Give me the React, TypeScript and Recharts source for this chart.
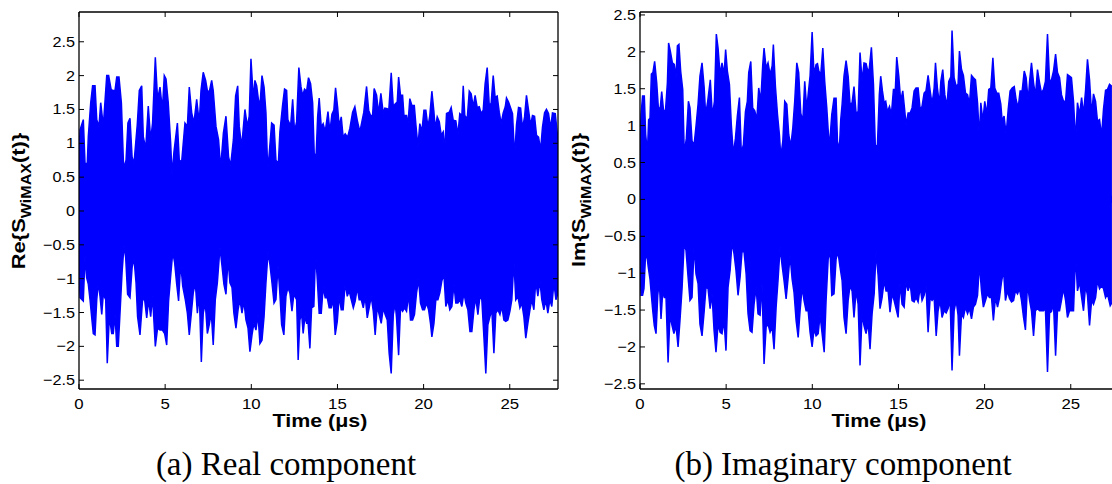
import { ComposedChart, Area, XAxis, YAxis } from 'recharts';

// time in microseconds, amplitude
const xTicks = [0, 5, 10, 15, 20, 25];
const yTicks = [-2.5, -2, -1.5, -1, -0.5, 0, 0.5, 1, 1.5, 2, 2.5];

const reUpper: [number, number][] = [
  [0, 0.8], [0.06, 1.2], [0.25, 1.35], [0.35, 0.7], [0.48, 0.7], [0.54, 1.1], [0.68, 1.6], [0.79, 1.85], [0.93, 1.85], [1.03, 1.35],
  [1.16, 1.25], [1.26, 1.6], [1.41, 1.25], [1.61, 2.0], [1.72, 2.0], [1.86, 1.8], [1.95, 1.78], [2.09, 1.78], [2.19, 1.98], [2.32, 1.98],
  [2.46, 1.6], [2.59, 0.63], [2.73, 0.75], [2.84, 1.3], [2.96, 1.37], [3.08, 0.8], [3.19, 0.7], [3.29, 1.0], [3.38, 1.27], [3.5, 1.78],
  [3.64, 1.85], [3.73, 1.1], [3.87, 0.92], [4.02, 1.55], [4.16, 1.05], [4.27, 1.3], [4.43, 2.27], [4.56, 1.65], [4.7, 1.83], [4.84, 1.5],
  [4.95, 2.0], [5.05, 1.95], [5.18, 1.6], [5.32, 1.0], [5.4, 0.53], [5.51, 0.87], [5.71, 1.3], [5.82, 0.75], [5.96, 0.73], [6.15, 1.3],
  [6.29, 1.25], [6.4, 1.83], [6.54, 1.45], [6.67, 1.3], [6.83, 1.65], [6.98, 1.3], [7.08, 1.78], [7.21, 2.05], [7.35, 1.93], [7.45, 1.78],
  [7.56, 1.76], [7.7, 1.93], [7.79, 1.78], [7.95, 1.25], [8.1, 1.05], [8.22, 0.63], [8.38, 1.15], [8.53, 1.4], [8.68, 0.8], [8.8, 0.67],
  [8.96, 1.05], [9.09, 1.7], [9.21, 1.85], [9.3, 1.25], [9.44, 0.95], [9.63, 1.5], [9.77, 1.25], [9.88, 1.4], [9.98, 2.25], [10.12, 1.65],
  [10.21, 1.93], [10.31, 1.85], [10.41, 1.65], [10.5, 1.55], [10.62, 2.0], [10.74, 1.83], [10.85, 1.45], [10.95, 0.6], [11.04, 0.85], [11.18, 1.3],
  [11.32, 1.27], [11.43, 0.75], [11.57, 0.7], [11.66, 1.17], [11.81, 1.55], [11.93, 1.8], [12.05, 1.78], [12.12, 1.35], [12.28, 1.25], [12.4, 1.65],
  [12.51, 1.17], [12.63, 1.32], [12.76, 2.12], [12.88, 1.84], [12.98, 1.7], [13.09, 1.8], [13.21, 1.77], [13.32, 1.97], [13.44, 1.88], [13.56, 1.6],
  [13.65, 0.86], [13.75, 0.75], [13.85, 1.39], [13.94, 1.67], [14.06, 1.24], [14.17, 1.29], [14.29, 1.17], [14.45, 1.47], [14.56, 1.17], [14.68, 1.43],
  [14.79, 1.49], [14.89, 1.82], [15.01, 1.53], [15.1, 1.25], [15.22, 1.39], [15.33, 1.09], [15.45, 1.14], [15.59, 1.09], [15.72, 1.22], [15.88, 1.46],
  [16.01, 1.54], [16.15, 1.34], [16.3, 1.17], [16.42, 1.32], [16.53, 1.46], [16.69, 1.84], [16.81, 1.49], [16.92, 1.41], [17.04, 1.41], [17.13, 1.81],
  [17.27, 1.71], [17.39, 1.44], [17.52, 1.74], [17.66, 1.44], [17.75, 1.52], [17.89, 1.51], [17.98, 1.49], [18.12, 2.04], [18.24, 1.54], [18.35, 1.58],
  [18.47, 1.61], [18.55, 1.98], [18.66, 1.71], [18.78, 1.71], [18.86, 1.41], [19.01, 1.41], [19.09, 1.27], [19.2, 1.66], [19.32, 1.56], [19.46, 1.56],
  [19.55, 1.28], [19.67, 0.95], [19.78, 1.29], [19.9, 1.17], [20.02, 1.49], [20.13, 1.49], [20.25, 1.24], [20.36, 1.41], [20.48, 1.77], [20.6, 1.46],
  [20.67, 1.22], [20.79, 1.39], [20.91, 1.32], [21.02, 1.12], [21.14, 1.17], [21.22, 0.87], [21.33, 1.44], [21.49, 1.46], [21.6, 1.53], [21.72, 1.34],
  [21.87, 1.33], [21.99, 1.12], [22.1, 1.44], [22.22, 1.41], [22.3, 1.85], [22.39, 1.41], [22.53, 1.36], [22.65, 1.77], [22.76, 1.73], [22.88, 1.54],
  [22.99, 1.71], [23.11, 1.53], [23.23, 1.54], [23.34, 1.44], [23.46, 1.49], [23.57, 1.88], [23.69, 2.12], [23.81, 1.56], [23.92, 1.59], [24.04, 2.0],
  [24.15, 1.68], [24.27, 1.7], [24.39, 1.46], [24.5, 1.29], [24.62, 1.45], [24.74, 1.54], [24.81, 1.67], [24.93, 1.61], [25.04, 1.53], [25.16, 1.44],
  [25.28, 0.8], [25.39, 1.27], [25.51, 1.53], [25.63, 1.52], [25.74, 1.22], [25.86, 1.39], [25.97, 1.71], [26.09, 1.49], [26.21, 1.27], [26.32, 1.41],
  [26.44, 1.4], [26.55, 1.12], [26.67, 1.09], [26.79, 0.9], [26.9, 1.24], [27.02, 1.45], [27.13, 1.5], [27.25, 1.44], [27.37, 1.22], [27.48, 1.45],
  [27.64, 1.44], [27.8, 1.04],
];

const reLower: [number, number][] = [
  [0, -0.76], [0.06, -1.28], [0.25, -1.33], [0.35, -0.66], [0.44, -0.98], [0.54, -1.08], [0.64, -1.31], [0.74, -1.58], [0.83, -1.81], [0.93, -1.83],
  [1.03, -1.31], [1.12, -1.06], [1.22, -1.26], [1.32, -1.53], [1.41, -1.23], [1.55, -1.31], [1.64, -2.25], [1.76, -1.56], [1.9, -1.81], [1.99, -1.81],
  [2.09, -1.53], [2.19, -2.0], [2.28, -2.0], [2.38, -1.51], [2.5, -0.91], [2.61, -0.51], [2.71, -0.69], [2.82, -1.23], [2.96, -1.28], [3.08, -0.84],
  [3.19, -0.69], [3.31, -1.06], [3.4, -1.56], [3.54, -1.83], [3.69, -1.31], [3.81, -1.31], [3.93, -1.58], [4.04, -1.31], [4.16, -1.56], [4.27, -1.26],
  [4.43, -2.0], [4.56, -1.73], [4.7, -1.76], [4.84, -1.76], [4.97, -1.81], [5.09, -1.98], [5.2, -1.33], [5.32, -0.96], [5.44, -0.61], [5.55, -0.76],
  [5.67, -1.08], [5.78, -1.33], [5.9, -0.76], [6.02, -1.11], [6.17, -1.31], [6.29, -1.51], [6.4, -1.83], [6.52, -1.51], [6.63, -1.21], [6.75, -1.06],
  [6.87, -1.51], [6.98, -1.21], [7.1, -2.23], [7.21, -1.51], [7.33, -1.36], [7.45, -1.81], [7.56, -1.68], [7.68, -1.51], [7.79, -1.98], [7.91, -1.31],
  [8.03, -1.06], [8.18, -0.54], [8.3, -0.81], [8.41, -1.08], [8.53, -1.23], [8.65, -0.71], [8.76, -1.06], [8.88, -1.13], [8.99, -1.51], [9.11, -1.73],
  [9.23, -1.46], [9.34, -1.31], [9.46, -1.51], [9.57, -1.33], [9.69, -1.61], [9.81, -1.73], [9.92, -2.08], [10.04, -1.83], [10.15, -1.66], [10.27, -1.76],
  [10.39, -1.53], [10.5, -1.96], [10.62, -1.91], [10.74, -1.56], [10.85, -1.06], [10.97, -0.61], [11.08, -0.79], [11.2, -1.06], [11.32, -1.36], [11.43, -1.31],
  [11.55, -0.81], [11.66, -1.23], [11.76, -1.68], [11.89, -1.83], [12.01, -1.26], [12.12, -1.13], [12.24, -1.21], [12.36, -1.48], [12.47, -1.23], [12.63, -1.31],
  [12.72, -2.2], [12.82, -1.61], [12.92, -1.51], [13.01, -1.81], [13.11, -1.56], [13.21, -1.66], [13.3, -1.66], [13.4, -2.03], [13.5, -1.43], [13.63, -1.41],
  [13.73, -0.61], [13.83, -1.01], [13.94, -1.51], [14.06, -1.51], [14.17, -1.13], [14.29, -1.28], [14.41, -1.28], [14.52, -1.43], [14.64, -1.43], [14.75, -1.31],
  [14.87, -1.83], [14.99, -1.63], [15.1, -1.26], [15.22, -1.46], [15.33, -1.46], [15.45, -1.06], [15.57, -1.26], [15.68, -1.18], [15.8, -1.31], [15.92, -1.43],
  [16.03, -1.33], [16.15, -1.13], [16.26, -1.31], [16.38, -1.31], [16.5, -1.43], [16.61, -1.26], [16.73, -1.58], [16.84, -1.43], [16.96, -1.26], [17.08, -1.48],
  [17.19, -1.83], [17.31, -1.41], [17.42, -1.53], [17.54, -1.66], [17.66, -1.43], [17.77, -1.53], [17.89, -1.61], [18.0, -2.1], [18.12, -2.4], [18.24, -1.53],
  [18.35, -1.36], [18.43, -1.58], [18.55, -2.13], [18.66, -1.43], [18.78, -1.48], [18.89, -1.43], [19.01, -1.48], [19.13, -1.23], [19.24, -1.61], [19.36, -1.61],
  [19.47, -1.53], [19.59, -1.21], [19.71, -1.01], [19.82, -1.36], [19.94, -1.46], [20.05, -1.46], [20.17, -1.36], [20.29, -1.46], [20.4, -1.66], [20.48, -1.86],
  [20.6, -1.66], [20.71, -1.31], [20.83, -1.31], [20.94, -1.21], [21.06, -1.03], [21.18, -0.94], [21.29, -1.41], [21.41, -1.31], [21.52, -1.46], [21.64, -1.41],
  [21.76, -1.08], [21.87, -1.36], [21.99, -1.36], [22.1, -1.31], [22.22, -1.41], [22.34, -1.21], [22.45, -1.36], [22.57, -1.46], [22.69, -1.78], [22.8, -1.78],
  [22.92, -1.46], [23.03, -1.28], [23.15, -1.53], [23.27, -1.26], [23.38, -1.31], [23.5, -1.86], [23.61, -2.4], [23.73, -1.68], [23.85, -1.56], [23.96, -1.46],
  [24.08, -2.1], [24.19, -1.51], [24.31, -1.46], [24.43, -1.53], [24.54, -1.41], [24.66, -1.61], [24.77, -1.63], [24.89, -1.61], [25.01, -1.48], [25.12, -1.31],
  [25.24, -0.74], [25.35, -1.31], [25.47, -1.26], [25.59, -1.43], [25.7, -1.36], [25.82, -1.56], [25.93, -1.88], [26.05, -1.66], [26.17, -1.46], [26.28, -1.31],
  [26.4, -1.46], [26.51, -1.03], [26.63, -1.26], [26.75, -1.03], [26.86, -1.31], [26.98, -1.46], [27.1, -1.31], [27.21, -1.51], [27.33, -1.31], [27.44, -1.41],
  [27.56, -1.06], [27.68, -1.31], [27.8, -1.21],
];

const imUpper: [number, number][] = [
  [0, 0.7], [0.06, 1.15], [0.15, 1.4], [0.25, 1.4], [0.33, 0.88], [0.43, 0.63], [0.5, 1.08], [0.58, 1.1], [0.66, 1.7], [0.75, 1.72],
  [0.85, 1.87], [0.97, 1.58], [1.06, 1.26], [1.16, 1.2], [1.26, 1.46], [1.36, 1.22], [1.47, 1.17], [1.59, 1.58], [1.66, 2.12], [1.76, 2.01],
  [1.88, 1.85], [1.99, 1.83], [2.09, 1.65], [2.17, 2.08], [2.26, 2.1], [2.36, 1.74], [2.48, 1.49], [2.57, 0.61], [2.69, 0.83], [2.81, 1.33],
  [2.9, 1.24], [3.02, 0.79], [3.14, 0.74], [3.25, 0.99], [3.37, 1.29], [3.48, 1.67], [3.6, 1.85], [3.72, 1.53], [3.81, 1.15], [3.93, 1.33],
  [4.08, 1.62], [4.2, 1.13], [4.32, 1.33], [4.43, 2.24], [4.53, 2.05], [4.65, 1.69], [4.76, 1.85], [4.88, 1.69], [4.97, 2.03], [5.07, 1.74],
  [5.19, 1.56], [5.3, 1.01], [5.42, 0.61], [5.54, 0.83], [5.65, 1.13], [5.77, 1.38], [5.88, 0.63], [6.0, 0.74], [6.12, 1.19], [6.23, 1.33],
  [6.31, 1.72], [6.43, 1.87], [6.54, 1.24], [6.66, 1.2], [6.78, 1.08], [6.89, 1.51], [7.01, 1.33], [7.12, 1.81], [7.2, 2.05], [7.32, 1.78],
  [7.43, 1.85], [7.55, 1.69], [7.67, 1.81], [7.74, 2.1], [7.86, 1.53], [7.98, 1.15], [8.09, 0.88], [8.17, 0.58], [8.29, 0.79], [8.4, 1.33],
  [8.52, 1.29], [8.63, 0.88], [8.75, 0.72], [8.87, 0.97], [8.98, 1.33], [9.1, 1.85], [9.21, 1.72], [9.33, 1.17], [9.45, 1.06], [9.56, 1.6],
  [9.68, 1.22], [9.76, 1.42], [9.87, 1.67], [9.99, 2.27], [10.1, 1.69], [10.22, 1.83], [10.3, 1.84], [10.38, 1.74], [10.49, 1.69], [10.61, 2.05],
  [10.72, 1.6], [10.84, 1.24], [10.96, 0.79], [11.03, 0.83], [11.13, 1.15], [11.26, 1.37], [11.38, 1.37], [11.46, 0.79], [11.57, 0.67], [11.65, 1.08],
  [11.73, 1.29], [11.84, 1.67], [11.96, 1.88], [12.08, 1.67], [12.19, 1.29], [12.31, 1.31], [12.42, 1.53], [12.54, 1.17], [12.66, 1.19], [12.77, 1.99],
  [12.89, 1.6], [13.0, 1.85], [13.12, 1.84], [13.24, 1.72], [13.31, 1.78], [13.43, 2.06], [13.55, 1.56], [13.66, 0.7], [13.78, 0.74], [13.89, 1.42],
  [13.97, 1.67], [14.07, 1.47], [14.17, 1.31], [14.26, 1.33], [14.36, 1.19], [14.48, 1.26], [14.59, 1.15], [14.71, 1.49], [14.82, 1.49], [14.9, 1.93],
  [15.02, 1.67], [15.13, 1.33], [15.25, 1.47], [15.37, 1.19], [15.44, 1.01], [15.56, 1.17], [15.68, 1.17], [15.79, 1.24], [15.91, 1.47], [16.02, 1.51],
  [16.14, 1.51], [16.26, 1.22], [16.37, 1.26], [16.49, 1.44], [16.6, 1.47], [16.72, 1.68], [16.84, 1.47], [16.95, 1.29], [17.07, 1.51], [17.15, 1.85],
  [17.26, 1.51], [17.38, 1.29], [17.46, 1.6], [17.57, 1.76], [17.69, 1.42], [17.81, 1.26], [17.92, 1.6], [18.04, 1.66], [18.11, 2.29], [18.23, 1.65],
  [18.35, 1.53], [18.46, 1.56], [18.54, 2.01], [18.66, 1.76], [18.77, 1.68], [18.89, 1.44], [19.01, 1.42], [19.12, 1.29], [19.24, 1.68], [19.35, 1.65],
  [19.47, 1.62], [19.59, 1.31], [19.7, 0.83], [19.78, 1.31], [19.9, 1.06], [20.01, 1.33], [20.13, 1.15], [20.24, 1.49], [20.36, 1.51], [20.48, 1.92],
  [20.59, 1.51], [20.71, 1.44], [20.82, 1.44], [20.94, 1.29], [21.02, 1.06], [21.13, 1.13], [21.25, 0.88], [21.37, 1.22], [21.48, 1.47], [21.6, 1.51],
  [21.72, 1.53], [21.83, 1.35], [21.95, 1.24], [22.06, 1.47], [22.18, 1.47], [22.3, 1.74], [22.41, 1.65], [22.53, 1.33], [22.61, 1.6], [22.72, 1.85],
  [22.84, 1.58], [22.95, 1.4], [23.07, 1.76], [23.19, 1.58], [23.3, 1.44], [23.42, 1.49], [23.53, 1.6], [23.65, 2.24], [23.77, 1.6], [23.88, 1.62],
  [24.0, 1.74], [24.12, 1.97], [24.23, 1.72], [24.35, 1.65], [24.46, 1.42], [24.58, 1.33], [24.7, 1.33], [24.81, 1.69], [24.93, 1.67], [25.04, 1.65],
  [25.16, 1.33], [25.28, 0.79], [25.39, 1.31], [25.51, 1.15], [25.63, 1.38], [25.74, 1.15], [25.86, 1.48], [25.97, 1.9], [26.09, 1.62], [26.21, 1.15],
  [26.32, 1.43], [26.44, 1.33], [26.55, 1.06], [26.67, 1.08], [26.79, 0.86], [26.9, 1.22], [27.02, 1.48], [27.13, 1.49], [27.25, 1.56], [27.39, 1.53],
];

const imLower: [number, number][] = [
  [0, -0.81], [0.06, -1.3], [0.15, -1.3], [0.23, -1.21], [0.31, -0.81], [0.39, -0.74], [0.48, -0.92], [0.58, -1.08], [0.66, -1.3], [0.74, -1.51],
  [0.83, -1.71], [0.93, -1.82], [1.03, -1.3], [1.12, -1.1], [1.22, -1.62], [1.32, -1.24], [1.41, -1.33], [1.51, -1.33], [1.63, -2.21], [1.74, -1.57],
  [1.86, -1.71], [1.97, -1.82], [2.09, -1.71], [2.21, -2.0], [2.32, -1.64], [2.44, -1.21], [2.56, -0.6], [2.67, -0.69], [2.79, -1.05], [2.9, -1.37],
  [3.02, -1.33], [3.14, -0.62], [3.25, -1.01], [3.37, -1.14], [3.48, -1.69], [3.6, -1.85], [3.72, -1.53], [3.83, -1.19], [3.95, -1.21], [4.07, -1.48],
  [4.18, -1.28], [4.3, -1.78], [4.41, -2.07], [4.53, -1.69], [4.65, -1.8], [4.76, -1.82], [4.88, -1.64], [4.99, -2.05], [5.11, -1.19], [5.23, -0.96],
  [5.34, -0.58], [5.46, -0.74], [5.57, -0.96], [5.69, -1.3], [5.81, -1.05], [5.92, -0.71], [6.04, -0.71], [6.16, -1.01], [6.27, -1.55], [6.39, -1.78],
  [6.5, -1.8], [6.62, -1.42], [6.74, -1.19], [6.85, -1.55], [6.97, -1.57], [7.08, -1.14], [7.2, -2.23], [7.32, -1.73], [7.43, -1.69], [7.55, -1.8],
  [7.67, -1.73], [7.78, -2.03], [7.9, -1.46], [8.01, -1.1], [8.13, -0.65], [8.25, -0.9], [8.36, -1.1], [8.48, -1.35], [8.59, -1.08], [8.71, -0.76],
  [8.83, -1.08], [8.94, -1.26], [9.06, -1.64], [9.18, -1.87], [9.29, -1.51], [9.41, -1.19], [9.52, -1.37], [9.64, -1.51], [9.76, -1.51], [9.87, -1.8],
  [9.99, -2.0], [10.1, -1.76], [10.22, -1.85], [10.34, -1.82], [10.45, -1.57], [10.57, -1.82], [10.69, -2.07], [10.8, -1.37], [10.92, -0.81], [11.03, -0.7],
  [11.13, -1.3], [11.26, -1.28], [11.38, -0.81], [11.49, -0.71], [11.61, -0.92], [11.73, -1.1], [11.84, -1.6], [11.96, -1.82], [12.08, -1.37], [12.19, -1.17],
  [12.31, -1.24], [12.42, -1.6], [12.54, -1.24], [12.66, -1.42], [12.77, -2.25], [12.89, -1.55], [13.0, -1.71], [13.12, -1.82], [13.24, -1.67], [13.35, -2.03],
  [13.47, -1.55], [13.59, -1.28], [13.7, -0.71], [13.82, -1.03], [13.93, -1.48], [14.05, -1.33], [14.17, -1.1], [14.28, -1.24], [14.4, -1.24], [14.51, -1.53],
  [14.63, -1.28], [14.75, -1.37], [14.86, -1.48], [14.98, -1.6], [15.09, -1.14], [15.21, -1.42], [15.33, -1.46], [15.44, -1.12], [15.56, -1.24], [15.68, -1.14],
  [15.79, -1.37], [15.91, -1.39], [16.02, -1.33], [16.14, -1.39], [16.26, -1.19], [16.37, -1.37], [16.49, -1.3], [16.6, -1.17], [16.72, -1.8], [16.84, -1.33],
  [16.95, -1.37], [17.07, -1.33], [17.19, -1.85], [17.3, -1.51], [17.42, -1.37], [17.53, -1.6], [17.65, -1.51], [17.77, -1.54], [17.88, -1.48], [18.0, -1.37],
  [18.11, -2.32], [18.23, -1.51], [18.35, -1.37], [18.46, -1.57], [18.54, -2.12], [18.66, -1.55], [18.77, -1.6], [18.89, -1.46], [19.01, -1.55], [19.12, -1.48],
  [19.24, -1.62], [19.35, -1.46], [19.47, -1.42], [19.59, -1.3], [19.7, -0.87], [19.82, -1.24], [19.93, -1.46], [20.05, -1.37], [20.17, -1.28], [20.28, -1.33],
  [20.4, -1.33], [20.51, -1.64], [20.63, -1.33], [20.75, -1.46], [20.86, -1.34], [20.98, -1.12], [21.1, -0.96], [21.21, -1.37], [21.33, -1.24], [21.44, -1.34],
  [21.56, -1.39], [21.68, -1.37], [21.79, -1.24], [21.91, -1.28], [22.02, -1.21], [22.14, -1.37], [22.26, -1.6], [22.37, -1.77], [22.49, -1.14], [22.61, -1.37],
  [22.72, -1.51], [22.84, -1.85], [22.95, -1.51], [23.07, -1.48], [23.19, -1.51], [23.3, -1.51], [23.42, -1.51], [23.53, -1.48], [23.65, -2.34], [23.77, -1.54],
  [23.88, -1.52], [24.0, -1.42], [24.12, -2.12], [24.23, -1.51], [24.35, -1.51], [24.46, -1.37], [24.58, -1.21], [24.7, -1.37], [24.81, -1.6], [24.93, -1.51],
  [25.04, -1.51], [25.16, -1.51], [25.28, -0.74], [25.39, -1.24], [25.51, -1.12], [25.63, -1.33], [25.74, -1.51], [25.86, -1.17], [25.97, -1.3], [26.09, -1.71],
  [26.21, -1.37], [26.32, -1.42], [26.44, -1.33], [26.55, -1.1], [26.67, -1.21], [26.79, -1.17], [26.9, -1.21], [27.02, -1.33], [27.13, -1.28], [27.29, -1.44],
  [27.39, -1.4],
];

const SANS = '"Liberation Sans", Arial, Helvetica, sans-serif';
const SERIF = '"Liberation Serif", "Times New Roman", serif';

function buildRows(upper: [number, number][], lower: [number, number][]) {
  const rows: { t: number; hi?: number; lo?: number }[] = [
    ...upper.map(([t, v]) => ({ t, hi: v })),
    ...lower.map(([t, v]) => ({ t, lo: v })),
  ];
  return rows.sort((a, b) => a.t - b.t);
}

const fmt = (v: number) => (v < 0 ? '\u2212' + String(-v) : String(v));

// tick lines point into the plot (MATLAB style), labels sit outside
function XTick(props: any) {
  const { x, payload, plotBottom } = props;
  return (
    <text transform={`translate(${x},${plotBottom + 20}) scale(1.12,1)`} textAnchor="middle" fontSize={15} fontFamily={SANS} fill="#000">
      {fmt(payload.value)}
    </text>
  );
}

function YTick(props: any) {
  const { y, payload, plotLeft } = props;
  return (
    <text transform={`translate(${plotLeft - 4},${y + 5}) scale(1.08,1)`} textAnchor="end" fontSize={15} fontFamily={SANS} fill="#000">
      {fmt(payload.value)}
    </text>
  );
}

const blank = () => '';

function SignalPanel({ rows, yDomain, left, marginLeft, marginRight }: any) {
  const axisLine = { stroke: '#000', strokeWidth: 1.3 };
  const tickLine = { stroke: '#000', strokeWidth: 1 };
  const top = 12;
  const bottom = 51;
  const plotBottom = 440 - bottom;
  return (
    <div style={{ position: 'absolute', left, top: 0 }}>
      <ComposedChart width={600} height={440} data={rows} margin={{ top: top - 1, right: marginRight - 1, bottom: bottom - 1, left: marginLeft - 1 }}>
        <XAxis dataKey="t" type="number" domain={[0, 27.8]} ticks={xTicks} interval={0} allowDataOverflow height={1}
          tickSize={-5} tickMargin={0} axisLine={axisLine} tickLine={tickLine} tick={<XTick plotBottom={plotBottom} />} />
        <XAxis xAxisId="top" dataKey="t" orientation="top" type="number" domain={[0, 27.8]} ticks={xTicks} interval={0} allowDataOverflow height={1}
          tickSize={-5} tickMargin={0} axisLine={axisLine} tickLine={tickLine} tickFormatter={blank} />
        <YAxis type="number" domain={yDomain} ticks={yTicks} interval={0} allowDataOverflow width={1}
          tickSize={-5} tickMargin={0} axisLine={axisLine} tickLine={tickLine} tick={<YTick plotLeft={marginLeft} />} />
        <YAxis yAxisId="right" orientation="right" type="number" domain={yDomain} ticks={yTicks} interval={0} allowDataOverflow width={1}
          tickSize={-5} tickMargin={0} axisLine={axisLine} tickLine={tickLine} tickFormatter={blank} />
        <Area dataKey="hi" type="linear" baseValue={-0.05} connectNulls stroke="#0000ff" strokeWidth={1.5} fill="#0000ff" fillOpacity={1}
          dot={false} activeDot={false} isAnimationActive={false} />
        <Area dataKey="lo" type="linear" baseValue={0.05} connectNulls stroke="#0000ff" strokeWidth={1.5} fill="#0000ff" fillOpacity={1}
          dot={false} activeDot={false} isAnimationActive={false} />
      </ComposedChart>
    </div>
  );
}

function YLabel({ x, y, prefix }: { x: number; y: number; prefix: string }) {
  return (
    <text transform={`translate(${x},${y}) rotate(-90) scale(1.15,1)`} textAnchor="middle" fontSize={19} fontWeight="bold" fontFamily={SANS} fill="#000">
      {prefix}{'{S'}
      <tspan fontSize={14} dy={6}>WiMAX</tspan>
      <tspan fontSize={19} dy={-6}>{'(t)}'}</tspan>
    </text>
  );
}

export default function App() {
  const reRows = buildRows(reUpper, reLower);
  const imRows = buildRows(imUpper, imLower);
  return (
    <div style={{ position: 'absolute', left: 0, top: 0, width: 1112, height: 484, overflow: 'hidden', background: '#fff' }}>
      <SignalPanel rows={reRows} yDomain={[-2.63, 2.94]} left={0} marginLeft={79} marginRight={42} />
      <SignalPanel rows={imRows} yDomain={[-2.57, 2.54]} left={560} marginLeft={80} marginRight={41} />
      <svg width={1112} height={484} style={{ position: 'absolute', left: 0, top: 0, pointerEvents: 'none' }}>
        <YLabel x={25} y={201} prefix="Re" />
        <YLabel x={585} y={200} prefix="Im" />
        <text transform="translate(320,427) scale(1.19,1)" textAnchor="middle" fontSize={18} fontWeight="bold" fontFamily={SANS} fill="#000">
          Time (μs)
        </text>
        <text transform="translate(879,427) scale(1.19,1)" textAnchor="middle" fontSize={18} fontWeight="bold" fontFamily={SANS} fill="#000">
          Time (μs)
        </text>
        <text x={286} y={475} textAnchor="middle" fontSize={33} fontFamily={SERIF} fill="#000">(a) Real component</text>
        <text x={843} y={475} textAnchor="middle" fontSize={33} fontFamily={SERIF} fill="#000">(b) Imaginary component</text>
      </svg>
    </div>
  );
}
